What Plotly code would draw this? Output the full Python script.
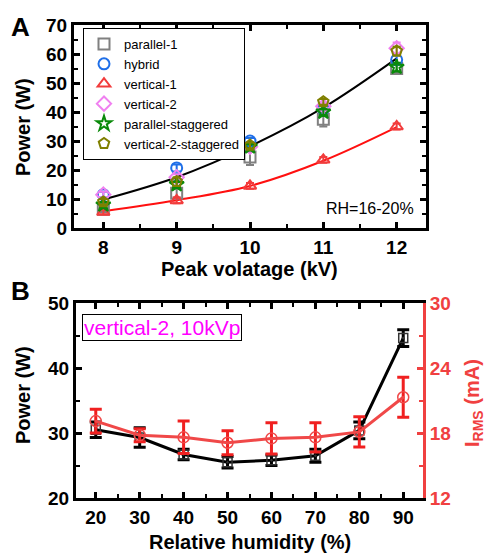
import plotly.graph_objects as go

# ---------------- Panel A data ----------------
voltage = [8, 9, 10, 11, 12]
series_names = ["parallel-1", "hybrid", "vertical-1", "vertical-2",
                "parallel-staggered", "vertical-2-staggered"]
parallel_1 = [6.5, 12.0, 24.5, 37.5, 55.0]
parallel_1_err = [1.0, 1.5, 2.8, 2.5, 1.5]
hybrid = [11.5, 20.7, 30.0, 41.0, 58.0]
hybrid_err = [1.0, 1.2, 1.0, 1.0, 1.5]
vertical_1 = [5.5, 9.5, 14.5, 23.5, 35.0]
vertical_1_err = [0.8, 1.0, 1.0, 1.0, 1.0]
vertical_2 = [11.5, 17.5, 28.0, 42.0, 62.0]
vertical_2_err = [1.0, 1.0, 1.0, 1.0, 2.0]
parallel_staggered = [8.0, 15.0, 28.0, 40.0, 55.5]
parallel_staggered_err = [1.0, 1.0, 1.0, 1.0, 1.5]
vertical_2_staggered = [9.0, 16.0, 28.5, 43.5, 61.0]
vertical_2_staggered_err = [1.0, 1.5, 1.0, 1.0, 1.5]
fit_black = [9.8, 17.5, 28.2, 41.5, 58.5]
fit_red = [5.8, 9.6, 14.5, 23.2, 34.8]

# ---------------- Panel B data ----------------
humidity = [20, 30, 40, 50, 60, 70, 80, 90]
power_b = [30.5, 29.3, 26.7, 25.5, 25.8, 26.5, 30.4, 44.6]
power_b_err = [1.2, 1.5, 0.8, 0.9, 0.8, 1.0, 1.3, 1.3]
irms = [19.1, 17.8, 17.6, 17.1, 17.5, 17.6, 18.1, 21.3]
irms_err = [1.1, 0.6, 1.5, 1.1, 1.45, 1.35, 1.4, 1.85]

FONT = "Arial, Liberation Sans, Helvetica, sans-serif"
W, H = 485, 554

def px(x):
    return x / W

def py(y):
    return 1 - y / H

colors = ["#808080", "#1f6fe8", "#f23c3c", "#f080f0", "#0a8a0a", "#808000"]
symbols = ["square-open", "circle-open", "triangle-up-open", "diamond-open",
           "star-open", "pentagon-open"]
values = [parallel_1, hybrid, vertical_1, vertical_2, parallel_staggered, vertical_2_staggered]
errors = [parallel_1_err, hybrid_err, vertical_1_err, vertical_2_err,
          parallel_staggered_err, vertical_2_staggered_err]

fig = go.Figure()

# fit curves
fig.add_trace(go.Scatter(x=voltage, y=fit_black, mode="lines", line=dict(color="black", width=2, shape="spline"),
                         showlegend=False, xaxis="x", yaxis="y", hoverinfo="skip"))
fig.add_trace(go.Scatter(x=voltage, y=fit_red, mode="lines", line=dict(color="#ff1010", width=2, shape="spline"),
                         showlegend=False, xaxis="x", yaxis="y", hoverinfo="skip"))

for name, vals, errs, col, sym in zip(series_names, values, errors, colors, symbols):
    fig.add_trace(go.Scatter(
        x=voltage, y=vals, mode="markers", name=name,
        marker=dict(symbol=sym, size=11, color=col, line=dict(width=2, color=col)),
        error_y=dict(type="data", array=errs, color=col, thickness=2, width=4),
        xaxis="x", yaxis="y"))

# Panel B
fig.add_trace(go.Scatter(
    x=humidity, y=power_b, mode="lines+markers", showlegend=False,
    line=dict(color="black", width=3),
    marker=dict(symbol="square-open-dot", size=9, color="#333333", line=dict(width=1.5, color="#333333")),
    error_y=dict(type="data", array=power_b_err, color="black", thickness=3, width=6),
    xaxis="x2", yaxis="y3"))
fig.add_trace(go.Scatter(
    x=humidity, y=irms, mode="lines+markers", showlegend=False,
    line=dict(color="#f04848", width=3),
    marker=dict(symbol="circle-open-dot", size=11, color="#f04848", line=dict(width=1.5, color="#f04848")),
    error_y=dict(type="data", array=irms_err, color="#f02020", thickness=3, width=6),
    xaxis="x2", yaxis="y4"))

tickfont = dict(family=FONT, size=19, color="black", weight="bold")
common_axis = dict(showline=True, linecolor="black", linewidth=3, ticks="inside",
                   tickwidth=2.5, ticklen=6, tickcolor="black", showgrid=False,
                   zeroline=False, tickfont=tickfont, automargin=False)

fig.update_layout(
    width=W, height=H, margin=dict(l=0, r=0, t=0, b=0, autoexpand=False),
    paper_bgcolor="white", plot_bgcolor="white",
    font=dict(family=FONT),
    xaxis=dict(domain=[px(74), px(426)], range=[7.6, 12.4], dtick=1, tick0=8,
               mirror="ticks", anchor="y",
               minor=dict(dtick=0.5, tick0=8, ticks="inside", ticklen=4, tickwidth=2, tickcolor="black"),
               **common_axis),
    yaxis=dict(domain=[py(228), py(25)], range=[0, 70], dtick=10, mirror="ticks", anchor="x",
               minor=dict(dtick=5, ticks="inside", ticklen=4, tickwidth=2, tickcolor="black"),
               **common_axis),
    xaxis2=dict(domain=[px(76), px(423)], range=[15.5, 94.5], dtick=10, tick0=20,
                mirror="ticks", anchor="y3",
                minor=dict(dtick=5, tick0=20, ticks="inside", ticklen=4, tickwidth=2, tickcolor="black"),
                **common_axis),
    yaxis3=dict(domain=[py(498), py(303)], range=[20, 50], dtick=10, anchor="x2", mirror=False,
                minor=dict(dtick=5, ticks="inside", ticklen=4, tickwidth=2, tickcolor="black"),
                **common_axis),
    yaxis4=dict(overlaying="y3", side="right", anchor="x2", range=[12, 30], dtick=6,
                showline=True, linecolor="#f04040", linewidth=3, ticks="inside",
                tickwidth=2.5, ticklen=6, tickcolor="#f04040", showgrid=False, zeroline=False,
                automargin=False,
                minor=dict(dtick=3, ticks="inside", ticklen=4, tickwidth=2, tickcolor="#f04040"),
                tickfont=dict(family=FONT, size=19, color="#f04040", weight="bold")),
    legend=dict(x=px(83), y=py(28), xanchor="left", yanchor="top",
                bordercolor="black", borderwidth=1, bgcolor="white",
                font=dict(family=FONT, size=13, color="black"),
                tracegroupgap=0, itemwidth=30),
)

def note(text, x, y, size=20, color="black", angle=0, xa="center", ya="middle", **kw):
    return dict(text=text, x=px(x), y=py(y), xref="paper", yref="paper", xanchor=xa, yanchor=ya,
                textangle=angle, showarrow=False, font=dict(family=FONT, size=size, color=color), **kw)

ann = [
    note("<b>A</b>", 20, 27, size=26),
    note("<b>B</b>", 20, 291, size=26),
    note("<b>Power (W)</b>", 23, 127, angle=-90),
    note("<b>Peak volatage (kV)</b>", 250, 269),
    note("RH=16-20%", 416, 208, size=16, xa="right"),
    note("<b>Power (W)</b>", 23, 395, angle=-90),
    note("<b>Relative humidity (%)</b>", 250, 542),
    note("<b>I<sub>RMS</sub> (mA)</b>", 473, 403, color="#f04040", angle=-90),
    note("vertical-2, 10kVp", 82, 314, size=21, color="#ff00ff", xa="left", ya="top",
         bordercolor="black", borderwidth=1, borderpad=1, bgcolor="white"),
]
fig.update_layout(annotations=ann)

fig.write_html("out.html")
